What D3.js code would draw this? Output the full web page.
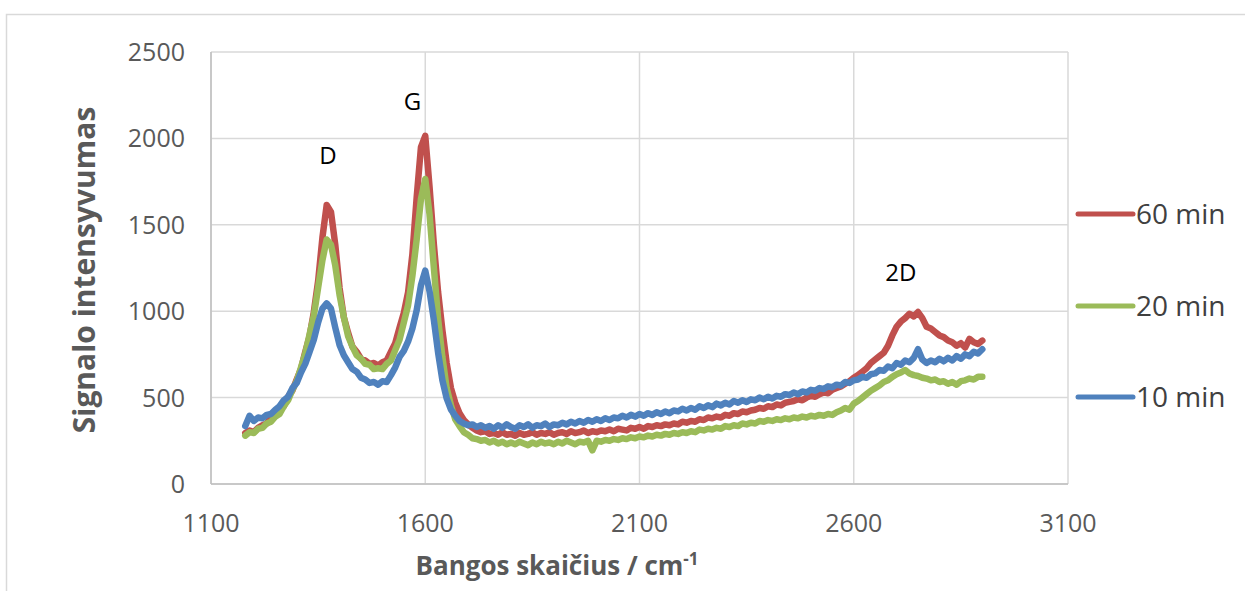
<!DOCTYPE html>
<html>
<head>
<meta charset="utf-8">
<script src="https://cdn.jsdelivr.net/npm/d3@7"></script>
<style>
  body { margin: 0; background: #fff; }
  svg { display: block; }
  text { font-family: "Open Sans", "Liberation Sans", sans-serif; }
</style>
</head>
<body>
<div id="chart"></div>
<script>
// Sampling grid of the spectra (cm-1)
var startWn = 1180, stepWn = 10;

// Series values, one per grid point (1180 ... 2900)
var min60 = [295,310,300,325,340,350,385,395,430,450,505,540,605,665,765,855,995,1175,1425,1615,
  1575,1385,1135,965,875,795,765,725,715,695,700,685,705,715,765,815,905,990,1110,1330,
  1660,1950,2015,1720,1390,1110,890,700,555,470,410,370,345,325,310,300,305,290,295,285,
  300,285,290,280,295,285,290,300,285,295,290,300,285,295,300,290,305,295,300,310,
  295,305,300,310,305,315,305,320,315,310,325,320,330,320,335,330,340,335,345,340,
  350,345,360,355,365,360,375,370,385,380,390,385,400,395,410,405,420,415,425,430,
  440,435,450,445,460,455,470,475,480,490,485,500,510,505,520,530,525,545,555,565,
  580,595,615,630,650,670,700,720,740,760,800,860,910,940,960,985,970,995,960,910,
  900,880,860,850,830,820,800,815,790,840,820,810,830];

var min20 = [280,300,295,320,325,350,360,390,405,450,485,545,595,675,755,865,975,1135,1295,1415,
  1385,1265,1095,965,855,795,745,725,695,690,665,670,665,695,715,775,835,935,1035,1205,
  1415,1650,1765,1560,1255,955,735,555,455,375,335,300,285,265,260,250,255,240,250,235,
  245,230,240,230,245,235,225,240,230,245,235,240,230,245,235,250,240,230,245,240,
  250,195,250,245,255,250,260,255,265,260,270,265,275,270,280,275,285,280,290,285,
  295,290,300,295,305,300,315,310,320,315,325,320,335,330,340,335,350,345,355,350,
  365,360,370,365,375,370,380,375,385,380,390,385,395,390,400,395,405,400,415,425,
  440,430,465,480,500,520,540,555,570,590,600,620,635,645,660,640,630,625,615,610,
  600,605,590,595,580,590,575,595,600,610,605,620,620];

var min10 = [335,395,365,385,380,400,405,430,450,485,505,555,585,645,695,765,835,935,1015,1045,
  1015,905,805,745,705,665,650,615,605,585,590,575,595,590,630,675,735,770,825,900,
  1005,1150,1235,1115,950,760,600,495,430,395,365,350,340,345,330,340,325,335,320,340,
  325,345,330,320,340,330,345,325,340,335,350,330,345,340,355,345,360,350,365,355,
  370,360,375,365,380,370,385,380,395,385,400,390,405,395,410,400,415,405,420,410,
  425,420,435,425,440,430,450,440,455,445,465,455,470,460,480,470,485,475,490,485,
  500,490,505,495,510,505,520,515,530,520,535,530,545,540,555,550,565,560,575,570,
  590,585,600,605,620,615,635,640,660,655,680,670,700,690,715,705,730,780,720,700,
  715,705,725,710,730,715,740,725,750,740,765,755,780];

var seriesNames = ["60 min", "20 min", "10 min"];
var seriesColors = ["#C0504D", "#9BBB59", "#4F81BD"];
var seriesValues = [min60, min20, min10];

var xTicks = [1100, 1600, 2100, 2600, 3100];
var yTicks = [0, 500, 1000, 1500, 2000, 2500];

// Peak labels
var peakLabels = [
  { text: "D", wn: 1373, value: 1850 },
  { text: "G", wn: 1570, value: 2165 },
  { text: "2D", wn: 2710, value: 1175 }
];

var width = 1245, height = 591;
var margin = { left: 211, right: 1068, top: 52, bottom: 484 };

var svg = d3.select("#chart").append("svg")
  .attr("width", width)
  .attr("height", height);

// Chart border
svg.append("rect")
  .attr("x", 6.5).attr("y", 14.5)
  .attr("width", 1260).attr("height", 600)
  .attr("fill", "none")
  .attr("stroke", "#d9d9d9")
  .attr("stroke-width", 1.5);

var x = d3.scaleLinear().domain([1100, 3100]).range([margin.left, margin.right]);
var y = d3.scaleLinear().domain([0, 2500]).range([margin.bottom, margin.top]);

// Gridlines
svg.append("g")
  .selectAll("line.h")
  .data(yTicks)
  .join("line")
  .attr("x1", margin.left).attr("x2", margin.right)
  .attr("y1", d => y(d)).attr("y2", d => y(d))
  .attr("stroke", "#d9d9d9")
  .attr("stroke-width", 1.5);

svg.append("g")
  .selectAll("line.v")
  .data(xTicks)
  .join("line")
  .attr("x1", d => x(d)).attr("x2", d => x(d))
  .attr("y1", margin.top).attr("y2", margin.bottom)
  .attr("stroke", "#d9d9d9")
  .attr("stroke-width", 1.5);

// Axis lines
svg.append("line")
  .attr("x1", margin.left).attr("x2", margin.left)
  .attr("y1", margin.top).attr("y2", margin.bottom)
  .attr("stroke", "#bfbfbf").attr("stroke-width", 1.5);
svg.append("line")
  .attr("x1", margin.left).attr("x2", margin.right)
  .attr("y1", margin.bottom).attr("y2", margin.bottom)
  .attr("stroke", "#bfbfbf").attr("stroke-width", 1.5);

// Tick labels
svg.append("g")
  .selectAll("text")
  .data(yTicks)
  .join("text")
  .attr("x", 185)
  .attr("y", d => y(d) + 9)
  .attr("text-anchor", "end")
  .attr("font-size", 25)
  .attr("fill", "#595959")
  .text(d => d);

svg.append("g")
  .selectAll("text")
  .data(xTicks)
  .join("text")
  .attr("x", d => x(d))
  .attr("y", 532)
  .attr("text-anchor", "middle")
  .attr("font-size", 25)
  .attr("fill", "#595959")
  .text(d => d);

// Axis titles
svg.append("text")
  .attr("transform", "translate(95,270) rotate(-90)")
  .attr("text-anchor", "middle")
  .attr("font-size", 30)
  .attr("font-weight", "bold")
  .attr("fill", "#595959")
  .text("Signalo intensyvumas");

var xTitle = svg.append("text")
  .attr("x", 557)
  .attr("y", 575)
  .attr("text-anchor", "middle")
  .attr("font-size", 26)
  .attr("font-weight", "bold")
  .attr("fill", "#595959");
xTitle.append("tspan").text("Bangos skaičius / cm");
xTitle.append("tspan").attr("dy", -10).attr("font-size", 17).text("-1");

// Spectra
var line = d3.line()
  .x((d, i) => x(startWn + i * stepWn))
  .y(d => y(d));

svg.append("g")
  .selectAll("path")
  .data(seriesValues)
  .join("path")
  .attr("d", d => line(d))
  .attr("fill", "none")
  .attr("stroke", (d, i) => seriesColors[i])
  .attr("stroke-width", 6.5)
  .attr("stroke-linejoin", "round")
  .attr("stroke-linecap", "round");

// Peak labels
svg.append("g")
  .selectAll("text")
  .data(peakLabels)
  .join("text")
  .attr("x", d => x(d.wn))
  .attr("y", d => y(d.value))
  .attr("text-anchor", "middle")
  .attr("font-size", 24)
  .attr("fill", "#000")
  .text(d => d.text);

// Legend
var legendY = [214, 306, 397];
var legend = svg.append("g")
  .selectAll("g")
  .data(seriesNames)
  .join("g")
  .attr("transform", (d, i) => `translate(1078,${legendY[i]})`);

legend.append("line")
  .attr("x1", 0).attr("x2", 55)
  .attr("stroke", (d, i) => seriesColors[i])
  .attr("stroke-width", 5)
  .attr("stroke-linecap", "round");

legend.append("text")
  .attr("x", 58)
  .attr("y", 10)
  .attr("font-size", 28)
  .attr("fill", "#404040")
  .text(d => d);
</script>
</body>
</html>
